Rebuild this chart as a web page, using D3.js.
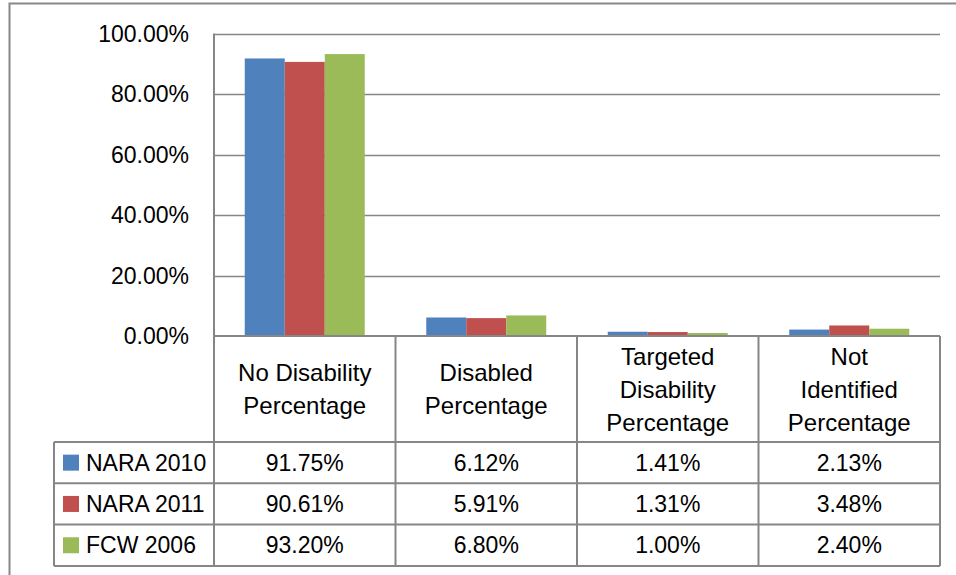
<!DOCTYPE html>
<html>
<head>
<title>disability chart</title>
<script src="https://d3js.org/d3.v7.min.js"></script>
<style>
  body { margin: 0; background: #fff; }
  text { font-family: "Liberation Sans", Arial, sans-serif; fill: #000; }
</style>
</head>
<body>
<svg id="chart" width="956" height="575"></svg>
<script>
// data
const categories = [
  ["No Disability", "Percentage"],
  ["Disabled", "Percentage"],
  ["Targeted", "Disability", "Percentage"],
  ["Not", "Identified", "Percentage"]
];
const seriesNames = ["NARA 2010", "NARA 2011", "FCW 2006"];
const nara2010 = [91.75, 6.12, 1.41, 2.13];
const nara2011 = [90.61, 5.91, 1.31, 3.48];
const fcw2006 = [93.20, 6.80, 1.00, 2.40];
const colors = ["#4F81BD", "#C0504D", "#9BBB59"];
const yTicks = [0, 20, 40, 60, 80, 100];

const series = [nara2010, nara2011, fcw2006];

const svg = d3.select("#chart");
const gridColor = "#868686";

// outer frame
svg.append("path")
  .attr("d", "M9.5,575 V3.5 H956")
  .attr("fill", "none").attr("stroke", "#888").attr("stroke-width", 2);

const plotLeft = 214, plotRight = 940, plotTop = 33.5, zeroY = 336;
const headerBottom = 442, rowH = 41.3, legendLeft = 54;

const x = d3.scaleBand().domain(d3.range(categories.length)).range([plotLeft, plotRight]);
const y = d3.scaleLinear().domain([0, 100]).range([zeroY, plotTop]);
const xs = d3.scaleBand().domain(d3.range(series.length)).range([0, 120]);

// gridlines
svg.append("g").selectAll("line").data(yTicks.filter(d => d > 0)).join("line")
  .attr("x1", plotLeft).attr("x2", plotRight)
  .attr("y1", d => Math.round(y(d)) + 0.5).attr("y2", d => Math.round(y(d)) + 0.5)
  .attr("stroke", gridColor).attr("stroke-width", 1.5);

// y tick labels
svg.append("g").selectAll("text").data(yTicks).join("text")
  .attr("x", 189).attr("y", d => y(d) + 8)
  .attr("text-anchor", "end").attr("font-size", 23)
  .text(d => d.toFixed(2) + "%");

// bars
series.forEach((vals, si) => {
  svg.append("g").selectAll("rect").data(vals).join("rect")
    .attr("x", (d, i) => x(i) + (x.bandwidth() - 120) / 2 + xs(si))
    .attr("width", xs.bandwidth())
    .attr("y", d => y(d))
    .attr("height", d => zeroY - y(d))
    .attr("fill", colors[si]);
});

// table lines
const tableBottom = headerBottom + rowH * series.length;
const lines = svg.append("g").attr("stroke", gridColor).attr("stroke-width", 2).attr("fill", "none");
// zero axis / header top
lines.append("line").attr("x1", plotLeft).attr("x2", plotRight).attr("y1", zeroY).attr("y2", zeroY);
// vertical category boundaries
d3.range(categories.length + 1).forEach(i => {
  const xx = i < categories.length ? x(i) : plotRight;
  lines.append("line").attr("x1", xx).attr("x2", xx)
    .attr("y1", i === 0 ? plotTop : zeroY).attr("y2", tableBottom);
});
// row lines
d3.range(series.length + 1).forEach(r => {
  const yy = headerBottom + r * rowH;
  lines.append("line").attr("x1", legendLeft).attr("x2", plotRight).attr("y1", yy).attr("y2", yy);
});
lines.append("line").attr("x1", legendLeft).attr("x2", legendLeft).attr("y1", headerBottom).attr("y2", tableBottom);

// category labels
const headerMid = (zeroY + headerBottom) / 2;
categories.forEach((lbl, i) => {
  const t = svg.append("text").attr("text-anchor", "middle").attr("font-size", 24);
  lbl.forEach((ln, j) => {
    t.append("tspan")
      .attr("x", x(i) + x.bandwidth() / 2)
      .attr("y", headerMid + (j - (lbl.length - 1) / 2) * 33 + 8.5)
      .text(ln);
  });
});

// legend rows and values
series.forEach((vals, si) => {
  const rowMid = headerBottom + si * rowH + rowH / 2;
  svg.append("rect").attr("x", 63).attr("y", rowMid - 8).attr("width", 16).attr("height", 16)
    .attr("fill", colors[si]);
  svg.append("text").attr("x", 86).attr("y", rowMid + 8).attr("font-size", 23).text(seriesNames[si]);
  svg.append("g").selectAll("text").data(vals).join("text")
    .attr("x", (d, i) => x(i) + x.bandwidth() / 2)
    .attr("y", rowMid + 8)
    .attr("text-anchor", "middle").attr("font-size", 23)
    .text(d => d.toFixed(2) + "%");
});
</script>
</body>
</html>
